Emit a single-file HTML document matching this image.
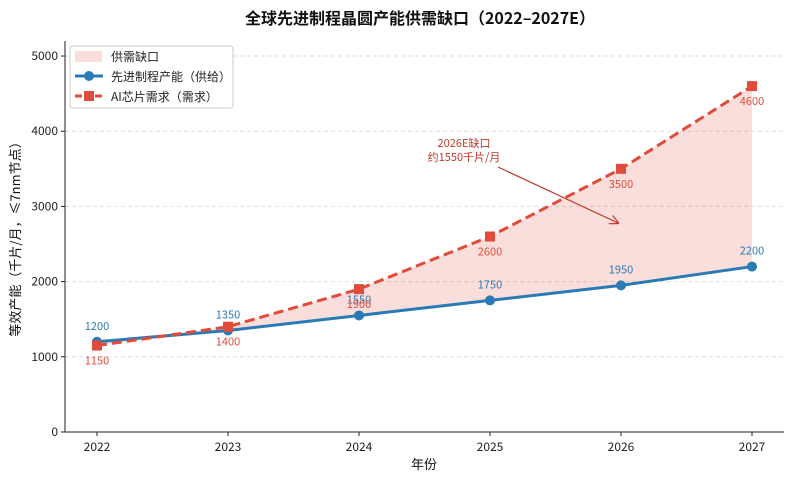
<!DOCTYPE html>
<html><head><meta charset="utf-8"><style>
body{margin:0;background:#fff;}
svg{display:block;font-family:"Noto Sans CJK SC","Liberation Sans",sans-serif;}
</style></head><body>
<svg id="c" width="793" height="481" viewBox="0 0 793 481"></svg>
<script>
const years=["2022","2023","2024","2025","2026","2027"];
const supply=[1200,1350,1550,1750,1950,2200];
const demand=[1150,1400,1900,2600,3500,4600];
const yTicks=[0,1000,2000,3000,4000,5000];
const L=65,R=784,T=41,B=432,yMax=5200;
const x=i=>97+i*131;
const y=v=>B-(v/yMax)*(B-T);
const svg=document.getElementById('c');
const NS='http://www.w3.org/2000/svg';
function mk(tag,attrs,parent){const e=document.createElementNS(NS,tag);for(const k in attrs)e.setAttribute(k,attrs[k]);(parent||svg).appendChild(e);return e;}
function txt(s,attrs){const e=mk('text',attrs);e.textContent=s;return e;}
const BLUE='#2a7ab5',RED='#e04b3c';
yTicks.forEach(v=>{const g=mk('line',{x1:L,x2:R,y1:y(v),y2:y(v),stroke:'#ddd','stroke-dasharray':'4,3'});});
let pts=supply.map((v,i)=>x(i)+','+y(v)).concat(demand.map((v,i)=>x(i)+','+y(v)).reverse());
const fill=mk('polygon',{points:pts.join(' '),fill:'rgba(231,90,75,0.2)'});

const ax=mk('path',{d:`M${L},${T} V${B} H${R}`,stroke:'#222',fill:'none','stroke-width':1});

yTicks.forEach(v=>{mk('line',{x1:L-4,x2:L,y1:y(v),y2:y(v),stroke:'#222'});const t=txt(String(v),{x:L-7,y:y(v)+4,'text-anchor':'end','font-size':12,fill:'#222'});});
years.forEach((yr,i)=>{mk('line',{x1:x(i),x2:x(i),y1:B,y2:B+4,stroke:'#222'});const t=txt(yr,{x:x(i),y:B+19,'text-anchor':'middle','font-size':12,fill:'#222'});});
const sl=mk('polyline',{points:supply.map((v,i)=>x(i)+','+y(v)).join(' '),fill:'none',stroke:BLUE,'stroke-width':3});

const dl=mk('polyline',{points:demand.map((v,i)=>x(i)+','+y(v)).join(' '),fill:'none',stroke:RED,'stroke-width':3,'stroke-dasharray':'10,5'});

supply.forEach((v,i)=>{const c=mk('circle',{cx:x(i),cy:y(v),r:5,fill:BLUE});
const t=txt(String(v),{x:x(i),y:y(v)-12,'text-anchor':'middle','font-size':11,fill:BLUE});});
demand.forEach((v,i)=>{const r=mk('rect',{x:x(i)-5,y:y(v)-5,width:10,height:10,fill:RED});
const t=txt(String(v),{x:x(i),y:y(v)+19,'text-anchor':'middle','font-size':11,fill:RED});});
mk('defs',{}).innerHTML='<marker id="ah" markerWidth="8" markerHeight="8" refX="7" refY="4" orient="auto"><path d="M0,0 L8,4 L0,8" fill="none" stroke="#c0392b"/></marker>';
const ar=mk('line',{x1:498,y1:167,x2:618,y2:223,stroke:'#c0392b','stroke-width':1.2,'marker-end':'url(#ah)'});

let a1=txt('2026E缺口',{x:464,y:147,'text-anchor':'middle','font-size':11,fill:'#c0392b'});
let a2=txt('约1550千片/月',{x:464,y:161,'text-anchor':'middle','font-size':11,fill:'#c0392b'});
let tt=txt('全球先进制程晶圆产能供需缺口（2022–2027E）',{x:420,y:24,'text-anchor':'middle','font-size':16,'font-weight':'bold',fill:'#111'});
let xt=txt('年份',{x:424,y:469,'text-anchor':'middle','font-size':13,fill:'#111'});
let yt=txt('等效产能（千片/月，≤7nm节点）',{x:0,y:0,'text-anchor':'middle','font-size':13,fill:'#111',transform:`translate(20,236) rotate(-90)`});
const lg=mk('g',{});
mk('rect',{x:70,y:46,width:163,height:62,rx:3,fill:'#fff','fill-opacity':0.85,stroke:'#ccc'},lg);
mk('rect',{x:75,y:51,width:27,height:11,fill:'rgba(231,90,75,0.2)'},lg);
mk('line',{x1:75,x2:103,y1:76,y2:76,stroke:BLUE,'stroke-width':3},lg);mk('circle',{cx:89,cy:76,r:5,fill:BLUE},lg);
mk('line',{x1:75,x2:103,y1:96,y2:96,stroke:RED,'stroke-width':3,'stroke-dasharray':'7,3'},lg);mk('rect',{x:84,y:91,width:10,height:10,fill:RED},lg);
[['供需缺口',61,'legend-gap'],['先进制程产能（供给）',81,'legend-supply'],['AI芯片需求（需求）',101,'legend-demand']].forEach(([s,yy,n])=>{const t=txt(s,{x:111,y:yy,'font-size':12,fill:'#222'});lg.appendChild(t);});
</script>
</body></html>
